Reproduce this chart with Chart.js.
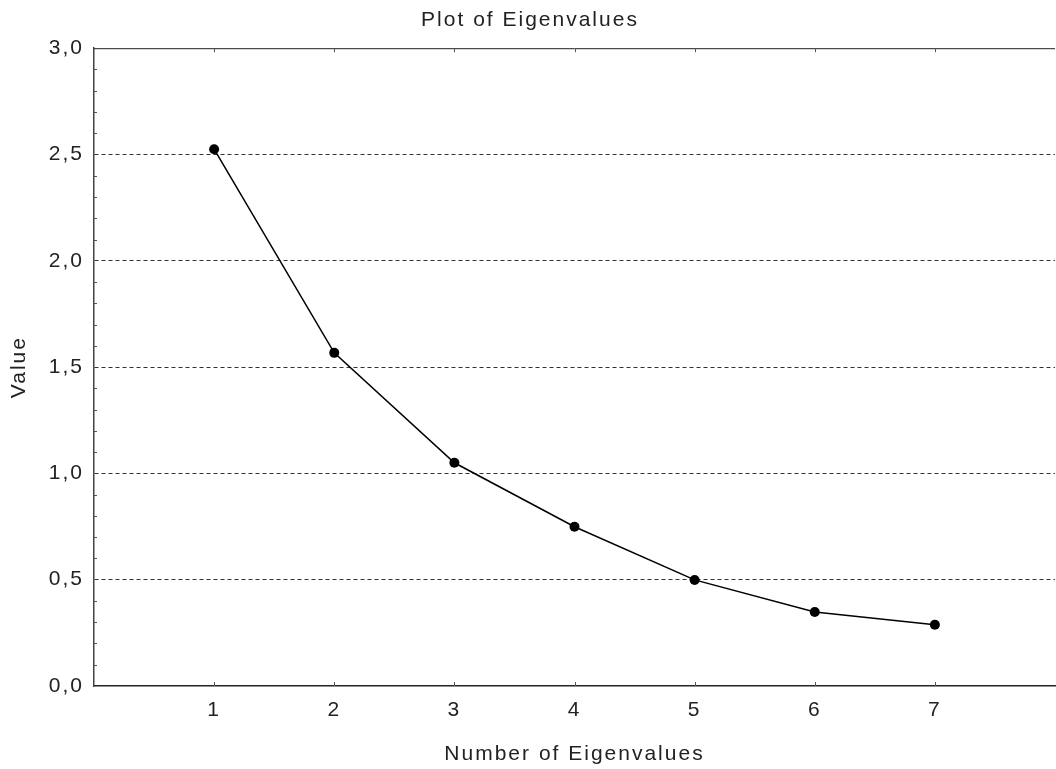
<!DOCTYPE html>
<html>
<head>
<meta charset="utf-8">
<script src="https://cdn.jsdelivr.net/npm/chart.js@4.4.1/dist/chart.umd.min.js"></script>
<style>
  html, body { margin: 0; padding: 0; background: #fff; overflow: hidden; }
  #wrap { width: 1056px; height: 769px; overflow: hidden; }
</style>
</head>
<body>
<div id="wrap"><canvas id="scree" width="1060" height="769"></canvas></div>
<script>
// eigenvalue number and value
const eigenNumbers = [1, 2, 3, 4, 5, 6, 7];
const eigenValues = [2.525, 1.567, 1.05, 0.749, 0.499, 0.348, 0.288];
const yTicks = [0, 0.5, 1.0, 1.5, 2.0, 2.5, 3.0];

const FONT = "'Liberation Sans', Arial, sans-serif";
const TEXT = '#222';

// inward ticks + top frame line, the way the old stats package draws it
const framePlugin = {
  id: 'frame',
  beforeDraw(chart) {
    chart.ctx.letterSpacing = '2px';
  },
  afterDatasetsDraw(chart) {
    const ctx = chart.ctx;
    const a = chart.chartArea;
    const xs = chart.scales.x;
    const ys = chart.scales.y;
    ctx.save();
    ctx.strokeStyle = '#222';
    ctx.lineWidth = 1;
    // top frame
    ctx.beginPath();
    ctx.moveTo(a.left, a.top + 0.5);
    ctx.lineTo(a.right, a.top + 0.5);
    ctx.stroke();
    // x ticks, pointing in
    ctx.strokeStyle = '#555';
    for (const n of eigenNumbers) {
      const px = Math.round(xs.getPixelForValue(n)) + 0.5;
      ctx.beginPath();
      ctx.moveTo(px, a.bottom);
      ctx.lineTo(px, a.bottom - 4);
      ctx.moveTo(px, a.top);
      ctx.lineTo(px, a.top + 4);
      ctx.stroke();
    }
    // minor y ticks every 0.1
    for (let i = 1; i < 30; i++) {
      if (i % 5 === 0) continue;
      const py = Math.round(ys.getPixelForValue(i / 10)) + 0.5;
      ctx.beginPath();
      ctx.moveTo(a.left, py);
      ctx.lineTo(a.left + 3, py);
      ctx.stroke();
    }
    ctx.restore();
  }
};

const points = eigenNumbers.map((n, i) => ({ x: n, y: eigenValues[i] }));

new Chart(document.getElementById('scree'), {
  type: 'line',
  data: {
    datasets: [{
      data: points,
      borderColor: '#000',
      borderWidth: 1.5,
      backgroundColor: '#000',
      pointRadius: 5,
      pointBorderWidth: 0,
      pointBackgroundColor: '#000',
      tension: 0
    }]
  },
  options: {
    responsive: false,
    animation: false,
    layout: { padding: 0 },
    plugins: {
      legend: { display: false },
      tooltip: { enabled: false },
      title: {
        display: true,
        text: 'Plot of Eigenvalues',
        color: TEXT,
        font: { family: FONT, size: 21, weight: 'normal' },
        padding: { top: 8, bottom: 15 }
      }
    },
    scales: {
      x: {
        type: 'linear',
        min: 0,
        max: 8,
        afterFit(scale) { scale.height = 83; },
        afterBuildTicks(scale) {
          scale.ticks = eigenNumbers.map(v => ({ value: v }));
        },
        grid: { drawOnChartArea: false, drawTicks: false },
        border: { display: true, color: '#222', width: 1.5 },
        ticks: {
          color: TEXT,
          padding: 12,
          font: { family: FONT, size: 21 }
        },
        title: {
          display: true,
          text: 'Number of Eigenvalues',
          color: TEXT,
          font: { family: FONT, size: 21 },
          padding: { top: 0, bottom: 2 }
        }
      },
      y: {
        min: 0,
        max: 3,
        afterFit(scale) { scale.width = 94; },
        afterBuildTicks(scale) {
          scale.ticks = yTicks.map(v => ({ value: v }));
        },
        grid: {
          drawTicks: false,
          color: ctx => (ctx.tick && (ctx.tick.value === 0 || ctx.tick.value === 3)) ? 'rgba(0,0,0,0)' : '#333',
          lineWidth: 1
        },
        border: { display: true, color: '#444', width: 1.5, dash: [4, 3] },
        ticks: {
          color: TEXT,
          padding: 10,
          font: { family: FONT, size: 21 },
          callback: v => v.toFixed(1).replace('.', ',')
        },
        title: {
          display: true,
          text: 'Value',
          color: TEXT,
          font: { family: FONT, size: 21 },
          padding: { top: 7, bottom: 0 }
        }
      }
    }
  },
  plugins: [framePlugin]
});
</script>
</body>
</html>
